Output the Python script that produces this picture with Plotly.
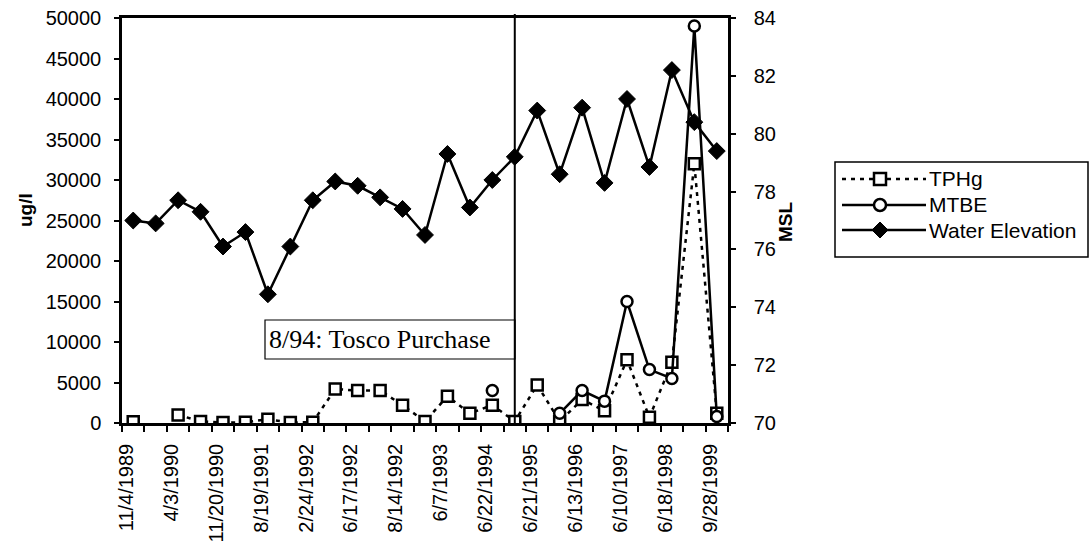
import plotly.graph_objects as go

# ---- data ----
date_labels = ["11/4/1989", "4/3/1990", "11/20/1990", "8/19/1991", "2/24/1992",
               "6/17/1992", "8/14/1992", "6/7/1993", "6/22/1994", "6/21/1995",
               "6/13/1996", "6/10/1997", "6/18/1998", "9/28/1999"]
n_samples = 27
sample_idx = list(range(n_samples))

tphg = [150, None, 1000, 200, 50, 100, 450, 50, 100, 4200, 4000, 4000, 2200, 200,
        3300, 1200, 2200, 200, 4700, 200, 2900, 1500, 7800, 700, 7500, 32000, 1200]
mtbe = [None] * 16 + [4000, None, None, 1200, 4000, 2700, 15000, 6600, 5500, 49000, 800]
water = [77.0, 76.9, 77.7, 77.3, 76.1, 76.6, 74.45, 76.1, 77.7, 78.35, 78.2, 77.8,
         77.4, 76.5, 79.3, 77.45, 78.4, 79.2, 80.8, 78.6, 80.9, 78.3, 81.2, 78.85,
         82.2, 80.4, 79.4]
purchase_idx = 17
purchase_text = "8/94: Tosco Purchase"

# ---- layout geometry (pixels) ----
W, H = 1091, 546
L, R, T, B = 122, 728, 18, 423
FONT = "Liberation Sans, Arial, sans-serif"


def px(x):
    return (x - L) / (R - L)


def py(y):
    return (B - y) / (B - T)


fig = go.Figure()
fig.add_trace(go.Scatter(
    x=sample_idx, y=tphg, name="TPHg", mode="lines+markers",
    line=dict(color="black", width=2.5, dash="4px,5px"),
    marker=dict(symbol="square", size=11, color="white", line=dict(color="black", width=2.5)),
))
fig.add_trace(go.Scatter(
    x=sample_idx, y=mtbe, name="MTBE", mode="lines+markers",
    line=dict(color="black", width=2.5),
    marker=dict(symbol="circle", size=11, color="white", line=dict(color="black", width=2.5)),
))
fig.add_trace(go.Scatter(
    x=sample_idx, y=water, name="Water Elevation", mode="lines+markers", yaxis="y2",
    line=dict(color="black", width=2.5),
    marker=dict(symbol="diamond", size=13, color="black", line=dict(color="black", width=1)),
))

shapes = []
annotations = []

# vertical purchase line
shapes.append(dict(type="line", xref="x", yref="paper", x0=purchase_idx, x1=purchase_idx,
                   y0=0, y1=1.01, line=dict(color="black", width=2)))
# purchase label box
shapes.append(dict(type="rect", xref="paper", yref="paper", x0=px(265), x1=px(515),
                   y0=py(359), y1=py(320), line=dict(color="black", width=1.2),
                   fillcolor="white", layer="below"))
annotations.append(dict(text=purchase_text, xref="paper", yref="paper", x=px(267), y=py(339.5),
                        xanchor="left", yanchor="middle", showarrow=False,
                        font=dict(family="Liberation Serif, Times New Roman, serif", size=26, color="black")))

# axis titles
annotations.append(dict(text="<b>ug/l</b>", xref="paper", yref="paper", x=px(25), y=py(210),
                        textangle=-90, showarrow=False, xanchor="center", yanchor="middle",
                        font=dict(family=FONT, size=19, color="black")))
annotations.append(dict(text="<b>MSL</b>", xref="paper", yref="paper", x=px(785), y=py(222),
                        textangle=-90, showarrow=False, xanchor="center", yanchor="middle",
                        font=dict(family=FONT, size=19, color="black")))

# custom legend
shapes.append(dict(type="rect", xref="paper", yref="paper", x0=px(835), x1=px(1088),
                   y0=py(257), y1=py(162), line=dict(color="black", width=1.5)))
leg_rows = [("TPHg", 179), ("MTBE", 205), ("Water Elevation", 230)]
lx0, lx1, mx = 842, 926, 880
# TPHg sample
shapes.append(dict(type="line", xref="paper", yref="paper", x0=px(lx0), x1=px(lx1),
                   y0=py(179), y1=py(179), line=dict(color="black", width=2.5, dash="4px,5px")))
shapes.append(dict(type="rect", xref="paper", yref="paper", x0=px(mx - 6), x1=px(mx + 6),
                   y0=py(185), y1=py(173), line=dict(color="black", width=2.5), fillcolor="white"))
# MTBE sample
shapes.append(dict(type="line", xref="paper", yref="paper", x0=px(lx0), x1=px(lx1),
                   y0=py(205), y1=py(205), line=dict(color="black", width=2.5)))
shapes.append(dict(type="circle", xref="paper", yref="paper", x0=px(mx - 6), x1=px(mx + 6),
                   y0=py(211), y1=py(199), line=dict(color="black", width=2.5), fillcolor="white"))
# Water sample
shapes.append(dict(type="line", xref="paper", yref="paper", x0=px(lx0), x1=px(lx1),
                   y0=py(230), y1=py(230), line=dict(color="black", width=2.5)))
shapes.append(dict(type="path", xref="paper", yref="paper",
                   path=f"M{px(mx-8)},{py(230)} L{px(mx)},{py(222)} L{px(mx+8)},{py(230)} L{px(mx)},{py(238)} Z",
                   line=dict(color="black", width=1), fillcolor="black"))
for name, yy in leg_rows:
    annotations.append(dict(text=name, xref="paper", yref="paper", x=px(927), y=py(yy),
                            xanchor="left", yanchor="middle", showarrow=False,
                            font=dict(family=FONT, size=21, color="black")))

label_shift = -0.3  # labels sit slightly left of their sample position in the original
fig.update_layout(
    width=W, height=H,
    margin=dict(l=L, r=W - R, t=T, b=H - B, pad=0, autoexpand=False),
    paper_bgcolor="white", plot_bgcolor="white",
    showlegend=False,
    font=dict(family=FONT, size=20, color="black"),
    xaxis=dict(
        range=[-0.5, n_samples - 0.5], automargin=False,
        tickmode="array", tickvals=[i + label_shift for i in sample_idx[::2]], ticktext=date_labels,
        tickangle=-90, ticks="", showgrid=False, zeroline=False,
        showline=True, linecolor="black", linewidth=2.5, mirror=True,
        tickfont=dict(family=FONT, size=20, color="black"),
        ticklabelstandoff=10,
        minor=dict(tickmode="array", tickvals=[i - 0.5 for i in range(n_samples + 1)],
                   ticks="outside", ticklen=6, tickwidth=1.5, tickcolor="black", showgrid=False),
    ),
    yaxis=dict(
        range=[0, 50000], dtick=5000, tick0=0, tickformat="d", automargin=False,
        ticks="outside", ticklen=5, tickwidth=1.5,
        tickcolor="black", showgrid=False, zeroline=False,
        showline=True, linecolor="black", linewidth=2.5,
        tickfont=dict(family=FONT, size=20, color="black"),
        ticklabelstandoff=9,
    ),
    yaxis2=dict(
        range=[70, 84], dtick=2, tick0=70, tickformat="d", overlaying="y", side="right",
        automargin=False,
        ticks="outside", ticklen=5, tickwidth=1.5, tickcolor="black",
        showgrid=False, zeroline=False,
        showline=True, linecolor="black", linewidth=2.5,
        tickfont=dict(family=FONT, size=20, color="black"),
        ticklabelstandoff=14,
    ),
    shapes=shapes,
    annotations=annotations,
)

fig.write_html("out.html")
